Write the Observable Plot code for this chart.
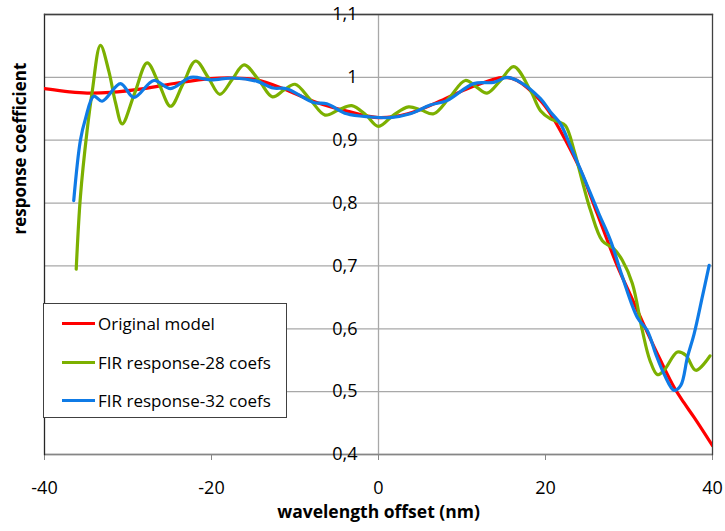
<!DOCTYPE html>
<html><head><meta charset="utf-8">
<script src="https://cdn.jsdelivr.net/npm/d3@7"></script>
<script src="https://cdn.jsdelivr.net/npm/@observablehq/plot@0.6"></script>
<style>
body{margin:0;background:#fff;font-family:"Open Sans",sans-serif;}
#wrap{position:relative;width:725px;height:531px;}
#legend{position:absolute;left:43px;top:303px;width:244px;height:115px;border:1px solid #404040;background:#fff;box-sizing:border-box;}
.row{position:absolute;left:18px;display:flex;align-items:center;font-size:17px;color:#000;height:22px;white-space:nowrap}
.sw{width:33px;height:3px;margin-right:3px}
</style></head><body><div id="wrap"></div>
<script>
const xTicks = [-40, -20, 0, 20, 40];
const yTicks = [0.4, 0.5, 0.6, 0.7, 0.8, 0.9, 1.0, 1.1];
const yLabels = ["0,4", "0,5", "0,6", "0,7", "0,8", "0,9", "1", "1,1"];
const seriesNames = ["Original model", "FIR response-28 coefs", "FIR response-32 coefs"];
const seriesColors = ["#ff0000", "#7cb000", "#0f7be6"];

const redX = [-40,-37,-34.9,-32.1,-28.1,-24.1,-20.1,-17.4,-14.6,-11.4,-7.4,-3.4,0,3.5,7.0,11.0,15.0,16.6,19.4,20.6,22.4,24.2,26.2,28.6,30.3,32.0,33.7,35.4,36.6,37.8,40.0];
const redY = [0.982,0.977,0.975,0.976,0.982,0.991,0.998,0.999,0.996,0.982,0.960,0.945,0.936,0.942,0.960,0.984,1.000,0.995,0.963,0.942,0.90,0.852,0.783,0.700,0.650,0.600,0.552,0.507,0.482,0.459,0.414];

const greenX = [-36.2,-35.7,-34.9,-34.3,-33.3,-32.3,-31.5,-30.7,-29.2,-27.7,-26.3,-24.9,-23.4,-21.9,-20.4,-19.0,-17.5,-16.1,-14.3,-12.7,-11.3,-10.0,-8.2,-6.4,-4.8,-3.2,-1.5,0.0,1.8,3.6,5.1,6.6,8.5,10.4,11.7,13.0,14.6,16.2,18.2,19.4,20.6,21.6,22.4,23.5,24.6,25.4,26.8,28.2,29.2,30.4,31.6,32.5,33.4,34.2,35.8,36.8,38.0,39.7];
const greenY = [0.695,0.81,0.915,0.976,1.051,1.01,0.96,0.926,0.975,1.023,0.99,0.954,0.99,1.026,1.0,0.973,0.997,1.020,0.995,0.969,0.98,0.989,0.965,0.940,0.948,0.955,0.94,0.922,0.94,0.953,0.948,0.942,0.968,0.995,0.985,0.975,0.995,1.017,0.979,0.947,0.934,0.929,0.923,0.88,0.825,0.788,0.740,0.727,0.709,0.672,0.597,0.55,0.527,0.534,0.563,0.558,0.534,0.557];

const blueX = [-36.5,-35.7,-35.1,-34.1,-33.1,-30.9,-29.3,-26.9,-24.9,-22.5,-20.1,-17.4,-14.6,-12.6,-11.0,-7.8,-6.2,-3.8,-1.0,1.4,3.8,6.2,8.2,11.4,13.8,15.4,17.0,19.4,20.6,21.8,23.0,24.4,26.4,27.8,29.2,31.0,32.2,33.2,34.2,35.4,36.2,37.0,37.8,38.8,39.6];
const blueY = [0.804,0.900,0.934,0.970,0.962,0.990,0.968,0.995,0.982,1.000,0.996,0.999,0.994,0.983,0.982,0.960,0.958,0.942,0.937,0.936,0.942,0.956,0.963,0.990,0.992,1.000,0.992,0.966,0.945,0.926,0.89,0.847,0.783,0.740,0.683,0.618,0.597,0.560,0.528,0.502,0.510,0.555,0.592,0.652,0.701];

const toPts = (xs, ys) => xs.map((x, i) => ({x, y: ys[i]}));
const red = toPts(redX, redY), green = toPts(greenX, greenY), blue = toPts(blueX, blueY);

const lineOpts = (c) => ({x: "x", y: "y", stroke: c, strokeWidth: 3.2, curve: "catmull-rom", clip: true});

const chart = Plot.plot({
  width: 725, height: 531,
  marginLeft: 44, marginRight: 13, marginTop: 14, marginBottom: 77,
  style: {fontFamily: "'Open Sans', sans-serif", fontSize: "18px", color: "#000", background: "#fff", overflow: "visible"},
  x: {domain: [-40, 40], axis: null},
  y: {domain: [0.4, 1.1], axis: null},
  marks: [
    Plot.gridY(yTicks, {stroke: "#a8a8a8", strokeOpacity: 1, strokeWidth: 1.3}),
    Plot.ruleX([0], {stroke: "#a8a8a8", strokeWidth: 1.3}),
    Plot.axisX(xTicks, {tickSize: 6, tickPadding: 21, tickFormat: d => String(d), stroke: "#868686", label: null, fontSize: 18}),
    Plot.ruleY([0.4], {stroke: "#868686", strokeWidth: 1.3}),
    Plot.frame({anchor: "left", stroke: "#262626", strokeWidth: 1.3}),
    Plot.frame({anchor: "top", stroke: "#404040", strokeWidth: 1.3}),
    Plot.frame({anchor: "right", stroke: "#404040", strokeWidth: 1.3}),
    Plot.text(yTicks, {x: () => 0, y: d => d, text: (d, i) => yLabels[i], textAnchor: "end", dx: -21, fontSize: 18}),
    Plot.line(red, lineOpts(seriesColors[0])),
    Plot.line(green, lineOpts(seriesColors[1])),
    Plot.line(blue, lineOpts(seriesColors[2])),
    Plot.text(["response coefficient"], {frameAnchor: "left", rotate: -90, dx: -24, fontWeight: "bold", fontSize: 17}),
    Plot.text(["wavelength offset (nm)"], {frameAnchor: "bottom", dy: 63, fontWeight: "bold", fontSize: 17.5})
  ]
});
const wrap = document.getElementById("wrap");
wrap.appendChild(chart);

const leg = document.createElement("div");
leg.id = "legend";
const tops = [8, 47, 85];
seriesNames.forEach((n, i) => {
  const r = document.createElement("div");
  r.className = "row";
  r.style.top = tops[i] + "px";
  const s = document.createElement("span");
  s.className = "sw";
  s.style.background = seriesColors[i];
  const t = document.createElement("span");
  t.textContent = n;
  r.appendChild(s); r.appendChild(t);
  leg.appendChild(r);
});
wrap.appendChild(leg);
</script>
</body></html>
